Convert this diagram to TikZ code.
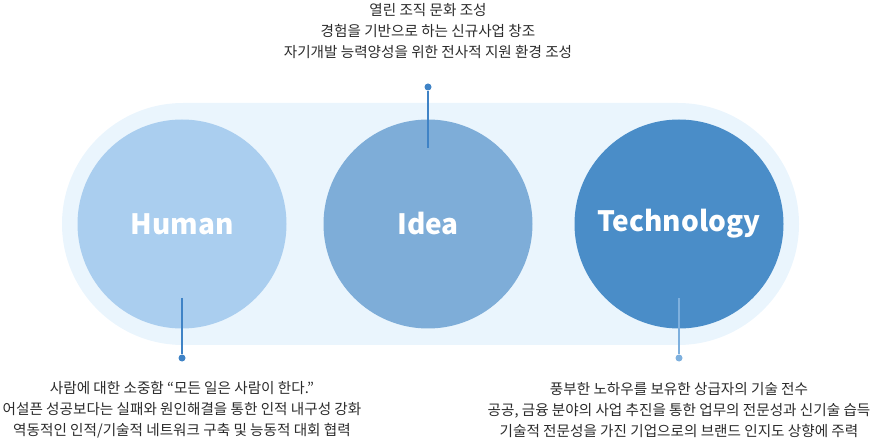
\documentclass[tikz,border=0pt]{standalone}
\usepackage{fontspec}
\setmainfont{Noto Sans CJK KR}
\usepackage{tikz}
\usetikzlibrary{positioning}
\definecolor{PillBlue}{HTML}{EAF5FD}
\definecolor{HumanBlue}{HTML}{AACEEF}
\definecolor{IdeaBlue}{HTML}{7EADD8}
\definecolor{TechBlue}{HTML}{4A8DC8}
\definecolor{PinBlue}{HTML}{3F83C6}
\definecolor{PinLight}{HTML}{7EB0DE}
\definecolor{TextGray}{HTML}{2B2B2B}

\begin{document}
\begin{tikzpicture}[x=1pt,y=-1pt,
    ball/.style={circle,inner sep=0pt,minimum size=209pt,text=white,
      font=\fontsize{28}{28}\selectfont\bfseries},
    pin/.style={circle,inner sep=0pt,minimum size=7pt},
    blurb/.style={align=center,text=TextGray,
      font=\fontsize{14.6}{21}\selectfont}]
  \useasboundingbox (0,0) rectangle (873,446);
  \fill[PillBlue,rounded corners=121pt] (62,103) rectangle (799,345);

  \node[ball,fill=HumanBlue] (human) at (182,224) {Human};
  \node[ball,fill=IdeaBlue] (idea) at (428,224) {Idea};
  \node[ball,fill=TechBlue] (tech) at (679,224) {Technology};

  % pins
  \coordinate (humanfoot) at (182,298);
  \node[pin,fill=PinBlue] (humanpin) at (182,358) {};
  \draw[PinBlue,line width=1.2pt] (humanfoot)--(humanpin);
  \coordinate (ideafoot) at (428,148);
  \node[pin,fill=PinBlue] (ideapin) at (428,87) {};
  \draw[PinBlue,line width=1.2pt] (ideafoot)--(ideapin);
  \coordinate (techfoot) at (679,298);
  \node[pin,fill=PinLight] (techpin) at (679,358) {};
  \draw[PinLight,line width=1.2pt] (techfoot)--(techpin);

  \node[blurb] (ideatext) at (428,31)
    {열린 조직 문화 조성\\경험을 기반으로 하는 신규사업 창조\\자기개발 능력양성을 위한 전사적 지원 환경 조성};
  \node[blurb] (humantext) at (182,410)
    {사람에 대한 소중함 “모든 일은 사람이 한다.”\\어설픈 성공보다는 실패와 원인해결을 통한 인적 내구성 강화\\역동적인 인적/기술적 네트워크 구축 및 능동적 대회 협력};
  \node[blurb] (techtext) at (679,410)
    {풍부한 노하우를 보유한 상급자의 기술 전수\\공공, 금융 분야의 사업 추진을 통한 업무의 전문성과 신기술 습득\\기술적 전문성을 가진 기업으로의 브랜드 인지도 상향에 주력};
\end{tikzpicture}
\end{document}
